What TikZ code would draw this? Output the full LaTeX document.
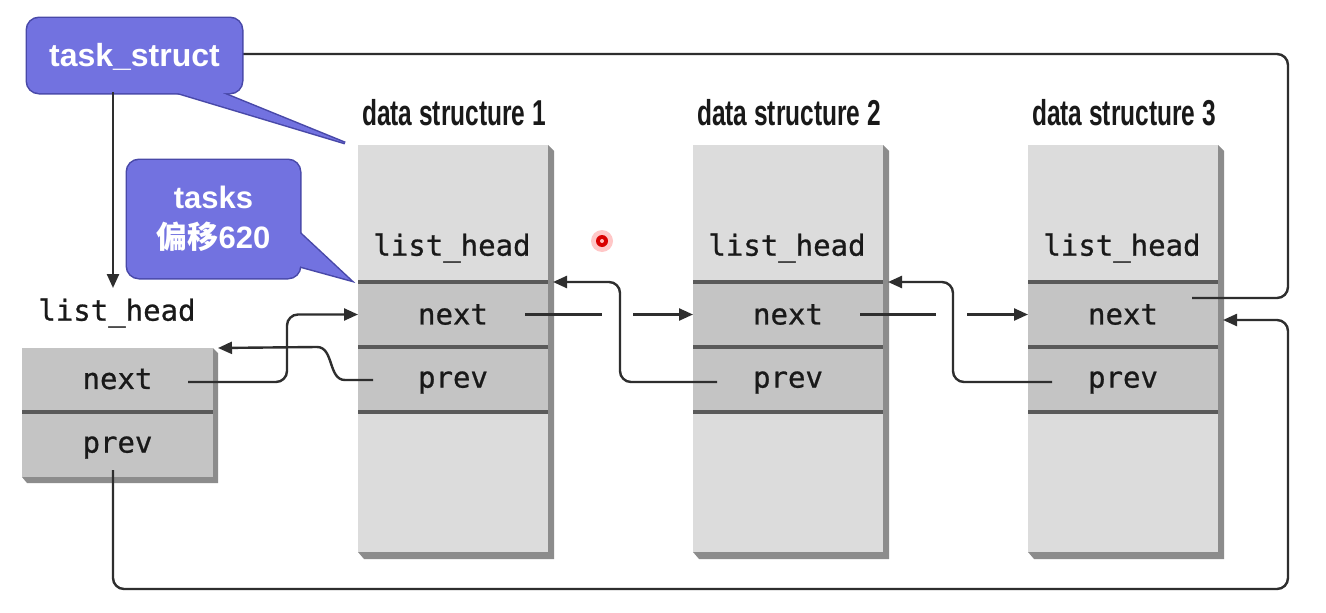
\documentclass[tikz,border=0pt]{standalone}
\usepackage{fontspec}
\setmainfont{Liberation Sans}
\newfontfamily\condfont[FakeStretch=0.68]{Liberation Sans}
\newfontfamily\codefont[FakeBold=0.8]{DejaVu Sans Mono}
\newfontfamily\cjkfont{Noto Sans CJK SC}
\usetikzlibrary{arrows.meta,calc}
\definecolor{lighttop}{HTML}{DCDCDC}
\definecolor{rowgray}{HTML}{C4C4C4}
\definecolor{sepgray}{HTML}{5A5A5A}
\definecolor{shadowgray}{HTML}{8C8C8C}
\definecolor{bubblefill}{HTML}{7272E0}
\definecolor{bubbleedge}{HTML}{4848A8}
\definecolor{linkcol}{HTML}{2E2E2E}
\begin{document}
\begin{tikzpicture}[x=1pt,y=-1pt,
  cell/.style={rectangle, inner sep=0, outer sep=0, minimum width=190, anchor=north west},
  topcell/.style={cell, fill=lighttop},
  midcell/.style={cell, fill=rowgray},
  code/.style={font=\codefont\fontsize{29}{32}\selectfont, text=black!90},
  title/.style={font=\condfont\bfseries\fontsize{36}{40}\selectfont, text=black!90},
  link/.style={draw=linkcol, line width=2.4pt, rounded corners=11pt},
  arr/.style={link, -{Triangle[length=14pt,width=12pt]}},
  sep/.style={draw=sepgray, line width=3.5pt},
  bubbox/.style={rectangle, inner sep=0, outer sep=0, anchor=north west},
  bubborder/.style={draw=bubbleedge, line width=3pt},
  bubtext/.style={font=\bfseries\fontsize{31}{40}\selectfont, text=white, align=center}
]
\useasboundingbox (0,0) rectangle (1326,613);
\fill[white] (0,0) rectangle (1326,613);

% ---------- data structures ----------
\foreach \i/\x in {1/358,2/693,3/1028}{
  \node[topcell, minimum height=137] (top\i) at (\x,145) {};
  \node[midcell, minimum height=65] (next\i) at (\x,282) {};
  \node[midcell, minimum height=65] (prev\i) at (\x,347) {};
  \node[topcell, minimum height=140] (rest\i) at (\x,412) {};
  \fill[shadowgray] (top\i.north east) -- ++(6,6) -- ($(rest\i.south east)+(6,7)$)
     -- ($(rest\i.south west)+(6,7)$) -- (rest\i.south west) -- (rest\i.south east) -- cycle;
  \draw[sep] (next\i.north west) -- (next\i.north east);
  \draw[sep] (prev\i.north west) -- (prev\i.north east);
  \draw[sep] (rest\i.north west) -- (rest\i.north east);
  \node[code] (lh\i) at ($(top\i.south)+(-1,-34)$) {list\_head};
  \node[code] (nt\i) at (next\i.center) {next};
  \node[code] (pt\i) at ($(prev\i.center)+(0,3)$) {prev};
  \node[title] (ttl\i) at ($(top\i.north)+(1,-32)$) {data structure \i};
}

% ---------- head list_head ----------
\node[code] (hlh) at (117,313) {list\_head};
\node[midcell, minimum width=191, minimum height=64] (hnext) at (22,348) {};
\node[midcell, minimum width=191, minimum height=65] (hprev) at (22,412) {};
\fill[shadowgray] (hnext.north east) -- ++(5,5) -- ($(hprev.south east)+(5,6)$)
   -- ($(hprev.south west)+(5,6)$) -- (hprev.south west) -- (hprev.south east) -- cycle;
\draw[sep] (hprev.north west) -- (hprev.north east);
\node[code] (hnt) at ($(hnext.center)+(0,-1)$) {next};
\node[code] (hpt) at ($(hprev.center)+(0,3)$) {prev};

% ---------- connector start points ----------
\coordinate (hnx) at (188,382);
\coordinate (hpv) at (113,470);
\coordinate (p1o) at (373,380);
\coordinate (n1o) at (525,314.5);
\coordinate (n1g) at (633,314.5);
\coordinate (p2o) at (717,382);
\coordinate (n2o) at (860,314.5);
\coordinate (n2g) at (967,314.5);
\coordinate (p3o) at (1052,382);
\coordinate (n3o) at (1192,298);
\coordinate (tsd) at (113,92);

% ---------- connectors ----------
\draw[arr] (hnx) -- (287,382) -- (287,314.5) -- (next1.west);
\draw[arr, rounded corners=0pt] (p1o) -- (345,380) .. controls (328,380) and (334,347) .. (317,347)
   -- ($(hnext.north east)+(5,0)$);
\draw[link] (n1o) -- (602,314.5);
\draw[arr] (n1g) -- (next2.west);
\draw[arr] (p2o) -- (620,382) -- (620,282) -- ($(next1.north east)+(5,0)$);
\draw[link] (n2o) -- (936,314.5);
\draw[arr] (n2g) -- (next3.west);
\draw[arr] (p3o) -- (953,382) -- (953,282) -- ($(next2.north east)+(5,0)$);
\draw[link] (n3o) -- (1288,298) -- (1288,54) -- (200,54);
\draw[arr] (hpv) -- (113,589) -- (1288,589) -- (1288,320) -- ($(next3.east)+(5,5.5)$);

% ---------- callout bubbles ----------
\node[bubbox, minimum width=215, minimum height=75] (ts) at (27,18) {};
\node[bubbox, minimum width=173, minimum height=118] (tk) at (127,160) {};
\coordinate (tstip) at (345,143);
\coordinate (tktip) at (350,280);
\path[bubborder] (155,86) -- (tstip) -- (205,86) -- cycle;
\path[bubborder, rounded corners=12pt] (ts.north west) rectangle (ts.south east);
\path[bubborder] (290,224) -- (tktip) -- (288,263) -- cycle;
\path[bubborder, rounded corners=12pt] (tk.north west) rectangle (tk.south east);
\fill[bubblefill] (155,86) -- (tstip) -- (205,86) -- cycle;
\fill[bubblefill, rounded corners=12pt] (ts.north west) rectangle (ts.south east);
\fill[bubblefill] (290,224) -- (tktip) -- (288,263) -- cycle;
\fill[bubblefill, rounded corners=12pt] (tk.north west) rectangle (tk.south east);
\node[bubtext, font=\bfseries\fontsize{32}{40}\selectfont] (tstext) at ($(ts.center)+(0,1)$) {task\_struct};
\node[bubtext] (tktext) at (tk.center) {tasks\\{\cjkfont 偏移}620};
\draw[arr] (tsd) -- (113,288);

% ---------- cursor mark ----------
\fill[red, opacity=0.22] (602,241) circle (11);
\fill[red!85!black] (602,241) circle (6);
\fill[red!25] (602,241) circle (2);
\end{tikzpicture}
\end{document}
